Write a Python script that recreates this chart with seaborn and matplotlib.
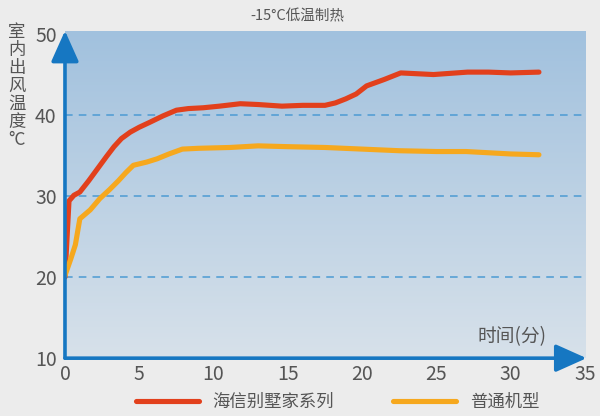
import numpy as np
import pandas as pd
import matplotlib
matplotlib.use("Agg")
import matplotlib.pyplot as plt
from matplotlib.colors import LinearSegmentedColormap
from matplotlib.lines import Line2D
import seaborn as sns

title = "-15°C低温制热"
series_names = ["海信别墅家系列", "普通机型"]

hisense_time = [0.0, 0.27, 0.6, 1.0, 1.6, 2.2, 2.8, 3.3, 3.8, 4.4, 5.0, 5.7, 6.6, 7.5, 8.3,
                9.3, 10.4, 11.8, 13.0, 14.6, 16.0, 17.5, 18.2, 18.9, 19.6, 20.3, 21.5,
                22.6, 24.8, 27.1, 28.5, 30.0, 31.9]
hisense_temp = [20.0, 29.4, 30.1, 30.5, 31.9, 33.4, 34.9, 36.1, 37.1, 37.9, 38.5, 39.1, 39.9,
                40.6, 40.8, 40.9, 41.1, 41.4, 41.3, 41.1, 41.2, 41.2, 41.5, 42.0, 42.6,
                43.6, 44.4, 45.2, 45.0, 45.3, 45.3, 45.2, 45.3]

normal_time = [0.0, 0.4, 0.7, 1.0, 1.7, 2.35, 3.0, 3.6, 4.1, 4.6, 5.5, 6.2, 7.0, 7.9,
               9.0, 11.1, 13.0, 15.0, 17.5, 20.0, 22.5, 25.0, 27.0, 30.0, 31.9]
normal_temp = [20.2, 22.3, 24.0, 27.2, 28.3, 29.7, 30.8, 31.9, 32.9, 33.8, 34.2, 34.6, 35.2, 35.8,
               35.9, 36.0, 36.2, 36.1, 36.0, 35.8, 35.6, 35.5, 35.5, 35.2, 35.1]

x_ticks = [0, 5, 10, 15, 20, 25, 30, 35]
y_ticks = [10, 20, 30, 40, 50]
grid_levels = [20, 30, 40]

df = pd.concat([
    pd.DataFrame({"time": hisense_time, "temp": hisense_temp, "model": series_names[0]}),
    pd.DataFrame({"time": normal_time, "temp": normal_temp, "model": series_names[1]}),
])

sns.set_style("white")
plt.rcParams["font.family"] = ["Noto Sans CJK SC", "DejaVu Sans"]

red = "#e2401c"
orange = "#f6a81e"
axis_blue = "#1677c2"
grey = "#555555"

fig = plt.figure(figsize=(6, 4.16), dpi=100)
fig.patch.set_facecolor("#ececec")
ax = fig.add_axes([0.1083, 0.139, 0.8667, 0.787])

# gradient background, darker at the top
cmap = LinearSegmentedColormap.from_list("bg", ["#a1c1de", "#d7e1ea"])
ax.imshow(np.linspace(0, 1, 256).reshape(-1, 1), cmap=cmap, aspect="auto",
          extent=[0, 35.15, 10, 50.4], origin="upper", zorder=0)

for lv in grid_levels:
    ax.axhline(lv, color="#4d9bd3", lw=1.1, ls=(0, (5, 4)), zorder=1)

sns.lineplot(data=df, x="time", y="temp", hue="model", sort=False,
             palette=[red, orange], lw=3.7, legend=False, ax=ax, zorder=3)
for ln in ax.get_lines():
    ln.set_solid_joinstyle("round")
    ln.set_solid_capstyle("round")

ax.set_xlim(0, 35)
ax.set_ylim(10, 50.4)
ax.set_xticks(x_ticks)
ax.set_yticks(y_ticks)
ax.set_xlabel("")
ax.set_ylabel("")
for s in ax.spines.values():
    s.set_visible(False)
ax.tick_params(axis="x", direction="in", length=4, width=1, color=axis_blue,
               labelsize=14, labelcolor=grey, pad=4)
ax.tick_params(axis="y", length=0, labelsize=14, labelcolor=grey, pad=6)
xt = ax.get_xticklines()
xt[0].set_visible(False)
xt[-2].set_visible(False)

# axis arrows
arrow = dict(arrowstyle="-|>,head_length=1.9,head_width=0.85",
             color=axis_blue, lw=2.6, shrinkA=0, shrinkB=0)
ax.annotate("", xy=(0, 1.0), xytext=(0, 0), xycoords="axes fraction",
            arrowprops=arrow, zorder=5, annotation_clip=False)
ax.annotate("", xy=(1.003, 0), xytext=(0, 0), xycoords="axes fraction",
            arrowprops=arrow, zorder=5, annotation_clip=False)

ax.text(30.1, 12.6, "时间(分)", fontsize=13.5, color=grey, ha="center", va="center")
fig.text(0.495, 0.962, title, fontsize=10.5, color=grey, ha="center", va="center")
fig.text(0.028, 0.945, "室\n内\n出\n风\n温\n度\n°C", fontsize=12.5, color=grey,
         ha="center", va="top", linespacing=1.0)

handles = [Line2D([], [], color=red, lw=3.7), Line2D([], [], color=orange, lw=3.7)]
fig.legend(handles, series_names, loc="center", bbox_to_anchor=(0.563, 0.034), ncol=2,
           frameon=False, fontsize=12.5, handlelength=3.6, handletextpad=0.8,
           columnspacing=3.4, labelcolor=grey)

fig.savefig("out.png", dpi=100, facecolor=fig.get_facecolor())
